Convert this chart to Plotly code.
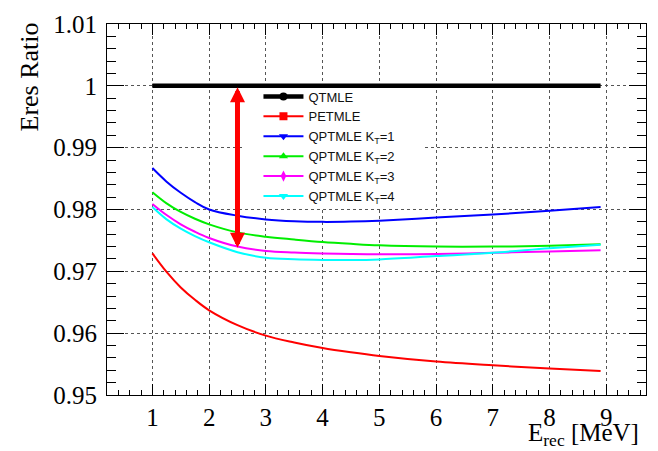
import plotly.graph_objects as go

# ---------------- data ----------------
x_vals = [1, 1.25, 1.5, 1.75, 2, 2.5, 3, 3.5, 4, 4.5, 5, 6, 7, 8, 8.9]
qtmle = [1.0] * len(x_vals)
petmle = [0.9729, 0.9699, 0.9674, 0.9654, 0.9637, 0.9613, 0.9596, 0.9585,
          0.9576, 0.9569, 0.9563, 0.9554, 0.9548, 0.9543, 0.9539]
kt1 = [0.9867, 0.9845, 0.9827, 0.9812, 0.9800, 0.9790, 0.9784, 0.9781,
       0.97800, 0.97805, 0.9782, 0.9787, 0.9792, 0.9798, 0.9804]
kt2 = [0.9828, 0.9810, 0.9796, 0.9785, 0.9776, 0.9763, 0.9756, 0.97515,
       0.97475, 0.97445, 0.9742, 0.9740, 0.9740, 0.97415, 0.97436]
kt3 = [0.9809, 0.9791, 0.9776, 0.9764, 0.9754, 0.9740, 0.9733, 0.97305,
       0.9729, 0.9728, 0.97275, 0.9728, 0.9730, 0.9732, 0.97342]
kt4 = [0.9804, 0.9784, 0.9769, 0.9757, 0.9747, 0.9731, 0.9722, 0.97195,
       0.97185, 0.97183, 0.97193, 0.97246, 0.9730, 0.97374, 0.97431]

series_names = ["QTMLE", "PETMLE", "QPTMLE K<sub>T</sub>=1", "QPTMLE K<sub>T</sub>=2",
                "QPTMLE K<sub>T</sub>=3", "QPTMLE K<sub>T</sub>=4"]
series_values = [qtmle, petmle, kt1, kt2, kt3, kt4]
series_colors = ["#000000", "#ff0000", "#0000ff", "#00ee00", "#ff00ff", "#00ffff"]
series_widths = [4.5, 2, 2, 2, 2, 2]
series_symbols = ["circle", "square", "triangle-down", "triangle-up", "diamond-tall", "triangle-down"]

x_tick_vals = [1, 2, 3, 4, 5, 6, 7, 8, 9]
y_tick_vals = [0.95, 0.96, 0.97, 0.98, 0.99, 1.0, 1.01]
y_tick_text = ["0.95", "0.96", "0.97", "0.98", "0.99", "1", "1.01"]

arrow_x = 2.5
arrow_top = 1.0
arrow_bottom = 0.9738

# ---------------- figure ----------------
fig = go.Figure()

for name, vals, col, w in zip(series_names, series_values, series_colors, series_widths):
    fig.add_trace(go.Scatter(x=x_vals, y=vals, mode="lines",
                             line=dict(color=col, width=w, shape="spline", smoothing=1.0),
                             showlegend=False, hoverinfo="skip"))

for name, col, w, sym in zip(series_names, series_colors, series_widths, series_symbols):
    fig.add_trace(go.Scatter(x=[None], y=[None], mode="lines+markers", name=name,
                             line=dict(color=col, width=w),
                             marker=dict(color=col, size=8, symbol=sym)))

fig.add_annotation(x=arrow_x, y=arrow_bottom, ax=arrow_x, ay=arrow_top,
                   xref="x", yref="y", axref="x", ayref="y", text="",
                   showarrow=True, arrowside="end+start",
                   arrowhead=2, startarrowhead=2, arrowsize=0.6, startarrowsize=0.6,
                   arrowwidth=5, arrowcolor="#ff0000", standoff=0, startstandoff=0)

# white legend box (hides the grid behind the legend)
fig.add_shape(type="rect", xref="paper", yref="paper",
              x0=0.2556, x1=0.589, y0=0.505, y1=0.8254,
              fillcolor="white", line=dict(width=0), layer="above")

serif = "Liberation Serif, Times New Roman, serif"
sans = "Liberation Sans, Arial, sans-serif"

fig.add_annotation(text="Eres Ratio", xref="paper", yref="paper", x=0, y=1,
                   xanchor="center", yanchor="top", xshift=-78, yshift=3,
                   textangle=-90, showarrow=False,
                   font=dict(family=serif, size=26, color="black"))
fig.add_annotation(text="E<sub>rec</sub> [MeV]", xref="paper", yref="paper", x=1, y=0,
                   xanchor="right", yanchor="top", xshift=-5, yshift=-22,
                   showarrow=False,
                   font=dict(family=serif, size=25, color="black"))

axis_common = dict(showline=True, linecolor="black", linewidth=1, mirror="allticks",
                   ticks="inside", tickcolor="black", tickwidth=1,
                   showgrid=True, gridcolor="#555555", griddash="dot", gridwidth=1,
                   zeroline=False, tickfont=dict(family=serif, size=25, color="black"))

fig.update_xaxes(range=[0.2, 9.7], tickvals=x_tick_vals, ticklen=11,
                 minor=dict(dtick=0.2, tick0=0, ticklen=5, ticks="inside", tickcolor="black", showgrid=False),
                 **axis_common)
fig.update_yaxes(range=[0.95, 1.01], tickvals=y_tick_vals, ticktext=y_tick_text, ticklen=17,
                 ticklabelstandoff=4,
                 minor=dict(dtick=0.002, tick0=0.95, ticklen=9, ticks="inside", tickcolor="black", showgrid=False),
                 **axis_common)

fig.update_layout(width=658, height=451,
                  margin=dict(l=107, r=11, t=17, b=56),
                  paper_bgcolor="white", plot_bgcolor="white",
                  legend=dict(x=0.281, y=0.845, xanchor="left", yanchor="top",
                              bgcolor="rgba(0,0,0,0)", borderwidth=0,
                              font=dict(family=sans, size=13, color="#111111"),
                              itemwidth=40, tracegroupgap=0),
                  showlegend=True)

fig.write_html("out.html")
